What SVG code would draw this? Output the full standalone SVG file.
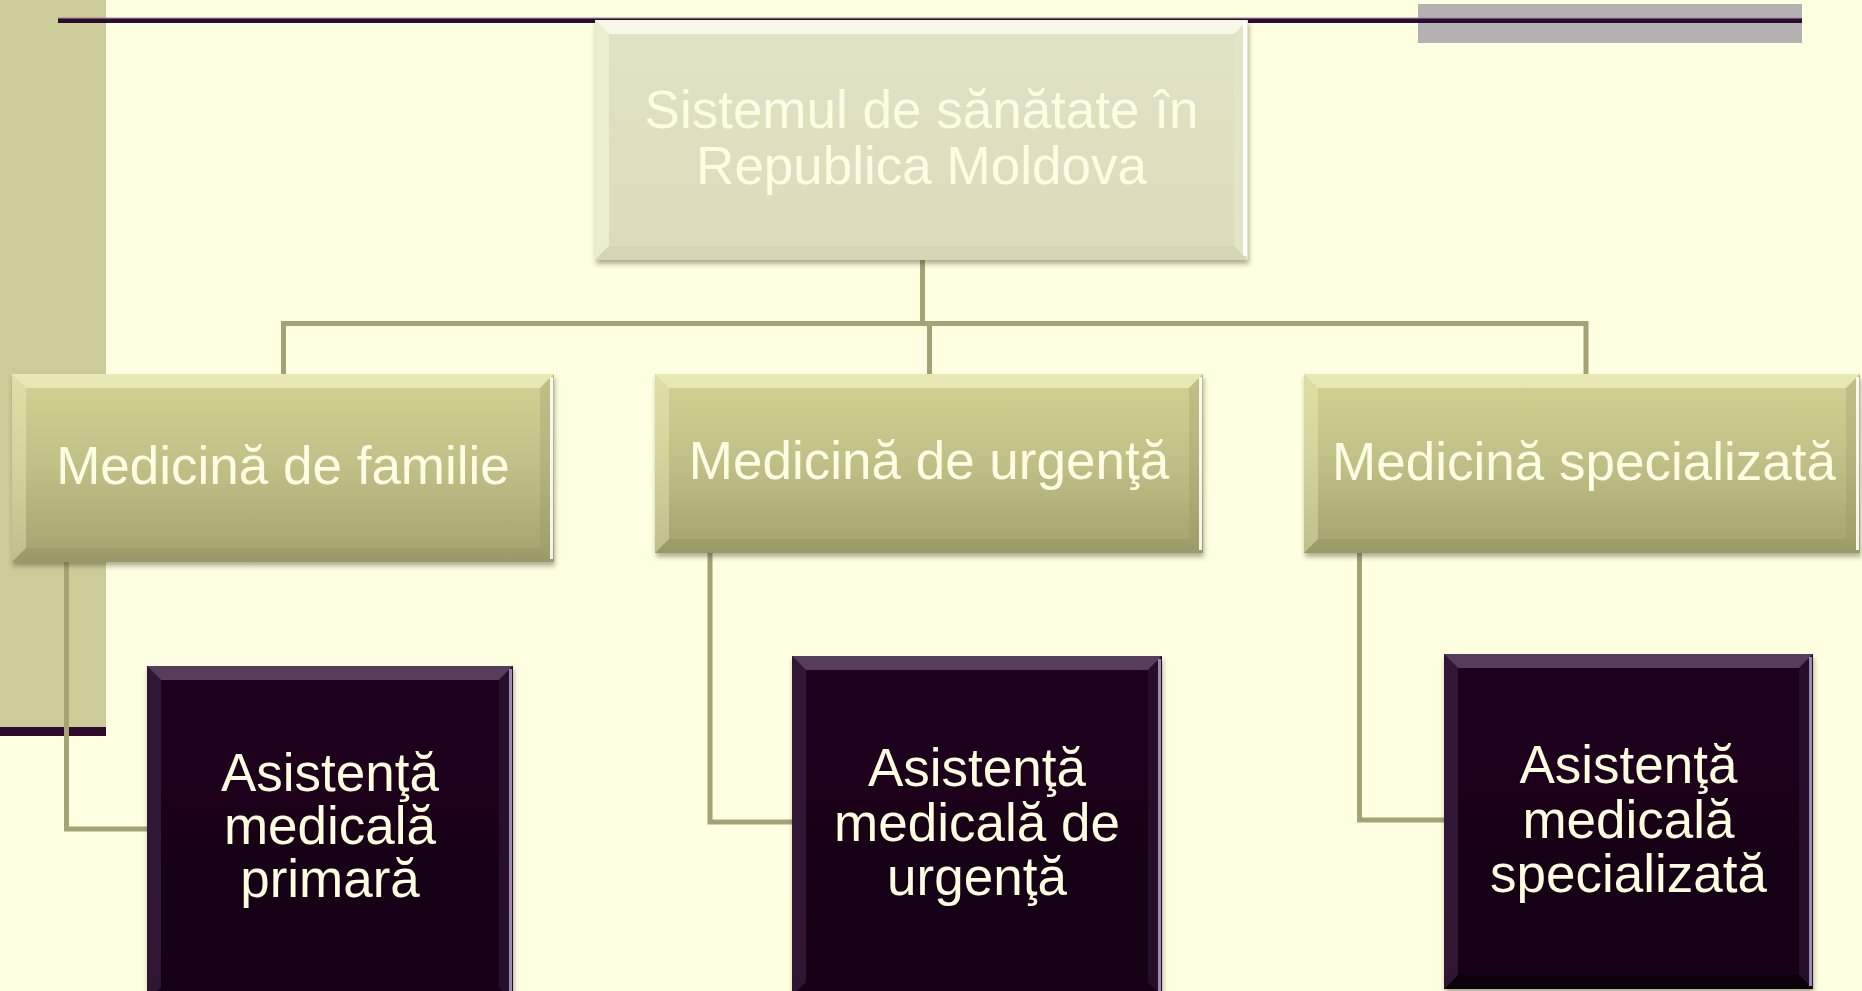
<svg xmlns="http://www.w3.org/2000/svg" width="1862" height="991" viewBox="0 0 1862 991">
<defs>
<linearGradient id="gOlive" x1="0" y1="0" x2="0" y2="1">
<stop offset="0" stop-color="#d2d294"/>
<stop offset="0.45" stop-color="#c2c288"/>
<stop offset="1" stop-color="#a2a26e"/>
</linearGradient>
<linearGradient id="gTop" x1="0" y1="0" x2="0" y2="1">
<stop offset="0" stop-color="#e2e2c4"/>
<stop offset="1" stop-color="#dcdcbd"/>
</linearGradient>
<linearGradient id="gDark" x1="0" y1="0" x2="0" y2="1">
<stop offset="0" stop-color="#1c021c"/>
<stop offset="1" stop-color="#170016"/>
</linearGradient>
<filter id="sh" x="-5%" y="-5%" width="110%" height="115%">
<feDropShadow dx="1" dy="4" stdDeviation="2.5" flood-color="#3a3a20" flood-opacity="0.4"/>
</filter>
</defs>
<style>
.bg{fill:#ffffe1}
.conn{fill:none;stroke:#a3a375;stroke-width:5;stroke-linejoin:miter}
.t{font-family:"Liberation Sans",Arial,sans-serif;font-size:53px;text-anchor:middle}
.tl{fill:#fdfde3}
.td{fill:#fdfde0}
.obt{fill:#fbfbd0;opacity:0.55}
.obl{fill:#f5f5c5;opacity:0.35}
.obr{fill:#8e8e5c;opacity:0.25}
.obb{fill:#7a7a50;opacity:0.18}
.edge{fill:#ffffff;opacity:0.9}
.dbt{fill:#6a5070;opacity:0.75}
.dbl{fill:#3a2240;opacity:0.7}
.dbr{fill:#2c1430;opacity:0.8}
.dbb{fill:#0a000a;opacity:0.5}
.dedge{fill:#a898c0;opacity:0.9}
</style>
<rect class="bg" x="0" y="0" width="1862" height="991"/>
<g id="decor">
<rect x="0" y="0" width="106" height="727" fill="#cccc99"/>
<rect x="0" y="727" width="106" height="9" fill="#2d0a2e"/>
<rect x="1418" y="4" width="384" height="39" fill="#b2b2b2"/>
<rect x="58" y="17.5" width="1744" height="1.2" fill="#a08aa0"/>
<rect x="58" y="18.5" width="1744" height="4.5" fill="#2d0a30"/>
</g>
<g id="connectors">
<path class="conn" d="M922.5 260 V323.5"/>
<path class="conn" d="M283.5 374 V323.5 H1586 V374"/>
<path class="conn" d="M929.5 323.5 V374"/>
<path class="conn" d="M66.5 562 V829 H150"/>
<path class="conn" d="M710 553 V822 H795"/>
<path class="conn" d="M1359.5 553 V820 H1447"/>
</g>
<g id="node-root" filter="url(#sh)">
<rect x="595" y="20" width="653" height="240" fill="url(#gTop)"/>
<polygon points="595,20 1248,20 1234,34 609,34" fill="#fcfcec" opacity="0.85"/>
<polygon points="595,20 609,34 609,246 595,260" fill="#eeeed2" opacity="0.9"/>
<polygon points="1248,20 1248,260 1234,246 1234,34" fill="#e4e4c8"/>
<rect x="1243" y="22" width="4" height="234" fill="#ffffff"/>
<polygon points="595,260 609,246 1234,246 1248,260" fill="#d6d6b6"/>
<text class="t tl" x="921.5" y="128">Sistemul de sănătate în</text>
<text class="t tl" x="921.5" y="184">Republica Moldova</text>
</g>
<g id="node-familie" filter="url(#sh)">
<rect x="12" y="374" width="542" height="188" fill="url(#gOlive)"/>
<polygon class="obt" points="12,374 554,374 540,388 26,388"/>
<polygon class="obl" points="12,374 26,388 26,548 12,562"/>
<polygon class="obr" points="554,374 554,562 540,548 540,388"/>
<polygon class="obb" points="12,562 26,548 540,548 554,562"/>
<rect class="edge" x="550" y="377" width="3" height="182"/>
<text class="t tl" x="283" y="484">Medicină de familie</text>
</g>
<g id="node-urgenta" filter="url(#sh)">
<rect x="655" y="374" width="548" height="179" fill="url(#gOlive)"/>
<polygon class="obt" points="655,374 1203,374 1189,388 669,388"/>
<polygon class="obl" points="655,374 669,388 669,539 655,553"/>
<polygon class="obr" points="1203,374 1203,553 1189,539 1189,388"/>
<polygon class="obb" points="655,553 669,539 1189,539 1203,553"/>
<rect class="edge" x="1199" y="377" width="3" height="173"/>
<text class="t tl" x="929" y="479">Medicină de urgenţă</text>
</g>
<g id="node-specializata" filter="url(#sh)">
<rect x="1304" y="374" width="556" height="179" fill="url(#gOlive)"/>
<polygon class="obt" points="1304,374 1860,374 1846,388 1318,388"/>
<polygon class="obl" points="1304,374 1318,388 1318,539 1304,553"/>
<polygon class="obr" points="1860,374 1860,553 1846,539 1846,388"/>
<polygon class="obb" points="1304,553 1318,539 1846,539 1860,553"/>
<rect class="edge" x="1856" y="377" width="3" height="173"/>
<text class="t tl" x="1584" y="480">Medicină specializată</text>
</g>
<g id="node-primara" filter="url(#sh)">
<rect x="147" y="666" width="366" height="335" fill="url(#gDark)"/>
<polygon class="dbt" points="147,666 513,666 499,680 161,680"/>
<polygon class="dbl" points="147,666 161,680 161,987 147,1001"/>
<polygon class="dbr" points="513,666 513,1001 499,987 499,680"/>
<rect class="dedge" x="509" y="669" width="3" height="332"/>
<text class="t td" x="330" y="791">Asistenţă</text>
<text class="t td" x="330" y="844">medicală</text>
<text class="t td" x="330" y="897">primară</text>
</g>
<g id="node-asist-urgenta" filter="url(#sh)">
<rect x="792" y="656" width="370" height="340" fill="url(#gDark)"/>
<polygon class="dbt" points="792,656 1162,656 1148,670 806,670"/>
<polygon class="dbl" points="792,656 806,670 806,982 792,996"/>
<polygon class="dbr" points="1162,656 1162,996 1148,982 1148,670"/>
<rect class="dedge" x="1158" y="659" width="3" height="337"/>
<text class="t td" x="977" y="786">Asistenţă</text>
<text class="t td" x="977" y="841">medicală de</text>
<text class="t td" x="977" y="895">urgenţă</text>
</g>
<g id="node-asist-specializata" filter="url(#sh)">
<rect x="1444" y="654" width="369" height="335" fill="url(#gDark)"/>
<polygon class="dbt" points="1444,654 1813,654 1799,668 1458,668"/>
<polygon class="dbl" points="1444,654 1458,668 1458,975 1444,989"/>
<polygon class="dbr" points="1813,654 1813,989 1799,975 1799,668"/>
<polygon class="dbb" points="1444,989 1458,975 1799,975 1813,989"/>
<rect class="dedge" x="1809" y="657" width="3" height="329"/>
<text class="t td" x="1628.5" y="783">Asistenţă</text>
<text class="t td" x="1628.5" y="838">medicală</text>
<text class="t td" x="1628.5" y="892">specializată</text>
</g>
</svg>
